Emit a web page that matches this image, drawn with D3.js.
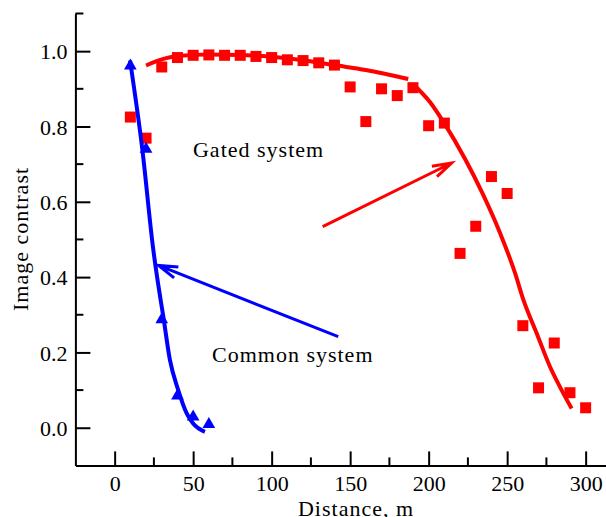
<!DOCTYPE html>
<html>
<head>
<meta charset="utf-8">
<script src="https://cdn.jsdelivr.net/npm/d3@7"></script>
<style>
  body { margin: 0; background: #fff; }
  svg { display: block; font-family: "Liberation Serif", "Times New Roman", serif; }
  svg text { font-family: "Liberation Serif", "Times New Roman", serif; }
</style>
</head>
<body>
<div id="chart"></div>
<script>
// gated system measurements
const gatedDistance = [10, 20, 30, 40, 50, 60, 70, 80, 90, 100, 110, 120, 130, 140, 150,
  160, 170, 180, 190, 200, 210, 220, 230, 240, 250, 260, 270, 280, 290, 300]
const gatedContrast = [0.825, 0.769, 0.958, 0.983, 0.989, 0.99, 0.989, 0.989, 0.986, 0.983,
  0.977, 0.975, 0.969, 0.963, 0.905, 0.813, 0.90, 0.882, 0.903, 0.802,
  0.809, 0.463, 0.535, 0.667, 0.622, 0.271, 0.106, 0.225, 0.093, 0.053]

// common system measurements
const commonDistance = [10, 20, 30, 40, 50, 60]
const commonContrast = [0.961, 0.74, 0.287, 0.085, 0.029, 0.009]

// fitted curves
const gatedFitNearX = [20, 30, 40, 60, 80, 100, 120, 140, 160, 187]
const gatedFitNearY = [0.962, 0.978, 0.987, 0.991, 0.99, 0.985, 0.976, 0.963, 0.95, 0.926]
const gatedFitFarX = [190, 200.8, 209.9, 223.3, 234, 245.4, 255, 260.3, 268.8, 277.3, 284.7, 291.1]
const gatedFitFarY = [0.913, 0.865, 0.809, 0.713, 0.625, 0.518, 0.411, 0.34, 0.251, 0.162, 0.10, 0.051]
const commonFitX = [9.8, 17.6, 24.6, 28.5, 31, 35.2, 40.5, 45.9, 50, 57.5]
const commonFitY = [0.975, 0.74, 0.473, 0.36, 0.295, 0.18, 0.10, 0.038, 0.011, -0.011]

// ticks
const xMajorTicks = [0, 50, 100, 150, 200, 250, 300]
const xMinorTicks = [25, 75, 125, 175, 225, 275]
const yMajorTicks = [0, 0.2, 0.4, 0.6, 0.8, 1.0]
const yMinorTicks = [0.1, 0.3, 0.5, 0.7, 0.9, 1.1]

// annotations
const labels = [
  { text: 'Gated system', x: 49.9, y: 0.719 },
  { text: 'Common system', x: 62, y: 0.175 }
]
const arrows = [
  { from: [142.4, 0.242], to: [27.9, 0.431], color: '#0000ff' },
  { from: [132.5, 0.534], to: [214.6, 0.703], color: '#ff0000' }
]

width = 606
height = 517

const xScale = d3.scaleLinear().domain([-25, 325]).range([75.4, 624.9])
const yScale = d3.scaleLinear().domain([-0.1, 1.1]).range([465.4, 13.5])

const svg = d3.select('#chart')
  .append('svg')
  .attr('width', width)
  .attr('height', height)

// Axes
const xAxis = d3.axisBottom(xScale)
  .tickValues(xMajorTicks)
  .tickFormat(d3.format('d'))
  .tickSizeInner(-14)
  .tickSizeOuter(0)
  .tickPadding(10)
const xg = svg.append('g')
  .attr('transform', 'translate(0,' + yScale(-0.1) + ')')
  .call(xAxis)
xg.selectAll('.minor').data(xMinorTicks).enter()
  .append('line')
  .attr('class', 'minor')
  .attr('x1', d => xScale(d)).attr('x2', d => xScale(d))
  .attr('y1', 0).attr('y2', -8)

const yAxis = d3.axisLeft(yScale)
  .tickValues(yMajorTicks)
  .tickFormat(d3.format('.1f'))
  .tickSizeInner(-15)
  .tickSizeOuter(0)
  .tickPadding(8)
const yg = svg.append('g')
  .attr('transform', 'translate(' + xScale(-25) + ',0)')
  .call(yAxis)
yg.selectAll('.minor').data(yMinorTicks).enter()
  .append('line')
  .attr('class', 'minor')
  .attr('x1', 0).attr('x2', 8)
  .attr('y1', d => yScale(d)).attr('y2', d => yScale(d))

svg.selectAll('g').attr('font-family', null).attr('font-size', null)
svg.selectAll('.domain').attr('stroke', '#000').attr('stroke-width', 2)
svg.selectAll('line').attr('stroke', '#000').attr('stroke-width', 2)
svg.selectAll('.tick text')
  .style('font-size', '22px')
  .attr('fill', '#000')
yg.selectAll('.tick text').attr('dy', '0.35em')

// Axis titles
svg.append('text')
  .attr('transform', 'translate(28,' + 239 + ') rotate(-90)')
  .attr('text-anchor', 'middle')
  .style('font-size', '22px')
  .attr('letter-spacing', 1)
  .text('Image contrast')
svg.append('text')
  .attr('x', 356)
  .attr('y', 516)
  .attr('text-anchor', 'middle')
  .style('font-size', '22px')
  .attr('letter-spacing', 1)
  .text('Distance, m')

// Fitted curves
const line = d3.line()
  .x(d => xScale(d[0]))
  .y(d => yScale(d[1]))
  .curve(d3.curveMonotoneX)

const gatedNear = d3.zip(gatedFitNearX, gatedFitNearY)
const gatedFar = d3.zip(gatedFitFarX, gatedFitFarY)
const commonFit = d3.zip(commonFitX, commonFitY)

svg.append('path').datum(gatedNear)
  .attr('d', line).attr('fill', 'none').attr('stroke', '#ff0000').attr('stroke-width', 4)
svg.append('path').datum(gatedFar)
  .attr('d', line).attr('fill', 'none').attr('stroke', '#ff0000').attr('stroke-width', 4)

// Gated squares
const sq = 11
svg.selectAll('.sq')
  .data(d3.zip(gatedDistance, gatedContrast))
  .enter()
  .append('rect')
  .attr('class', 'sq')
  .attr('x', d => xScale(d[0]) - sq / 2)
  .attr('y', d => yScale(d[1]) - sq / 2)
  .attr('width', sq)
  .attr('height', sq)
  .attr('fill', '#ff0000')

// Common system curve and triangles
svg.append('path').datum(commonFit)
  .attr('d', line).attr('fill', 'none').attr('stroke', '#0000ff').attr('stroke-width', 4)

const tri = d3.symbol().type(d3.symbolTriangle).size(70)
svg.selectAll('.tri')
  .data(d3.zip(commonDistance, commonContrast))
  .enter()
  .append('path')
  .attr('class', 'tri')
  .attr('d', tri)
  .attr('transform', d => 'translate(' + xScale(d[0]) + ',' + yScale(d[1]) + ')')
  .attr('fill', '#0000ff')

// Labels
svg.selectAll('.label')
  .data(labels)
  .enter()
  .append('text')
  .attr('class', 'label')
  .attr('x', d => xScale(d.x))
  .attr('y', d => yScale(d.y))
  .style('font-size', '22px')
  .attr('letter-spacing', 1)
  .text(d => d.text)

// Arrows with open heads
const headLen = 20
const headAngle = 17 * Math.PI / 180
arrows.forEach(a => {
  const x1 = xScale(a.from[0]), y1 = yScale(a.from[1])
  const x2 = xScale(a.to[0]), y2 = yScale(a.to[1])
  const ang = Math.atan2(y1 - y2, x1 - x2)
  const p = d3.path()
  p.moveTo(x1, y1)
  p.lineTo(x2, y2)
  p.moveTo(x2 + headLen * Math.cos(ang + headAngle), y2 + headLen * Math.sin(ang + headAngle))
  p.lineTo(x2, y2)
  p.lineTo(x2 + headLen * Math.cos(ang - headAngle), y2 + headLen * Math.sin(ang - headAngle))
  svg.append('path')
    .attr('d', p.toString())
    .attr('fill', 'none')
    .attr('stroke', a.color)
    .attr('stroke-width', 3)
})
</script>
</body>
</html>
